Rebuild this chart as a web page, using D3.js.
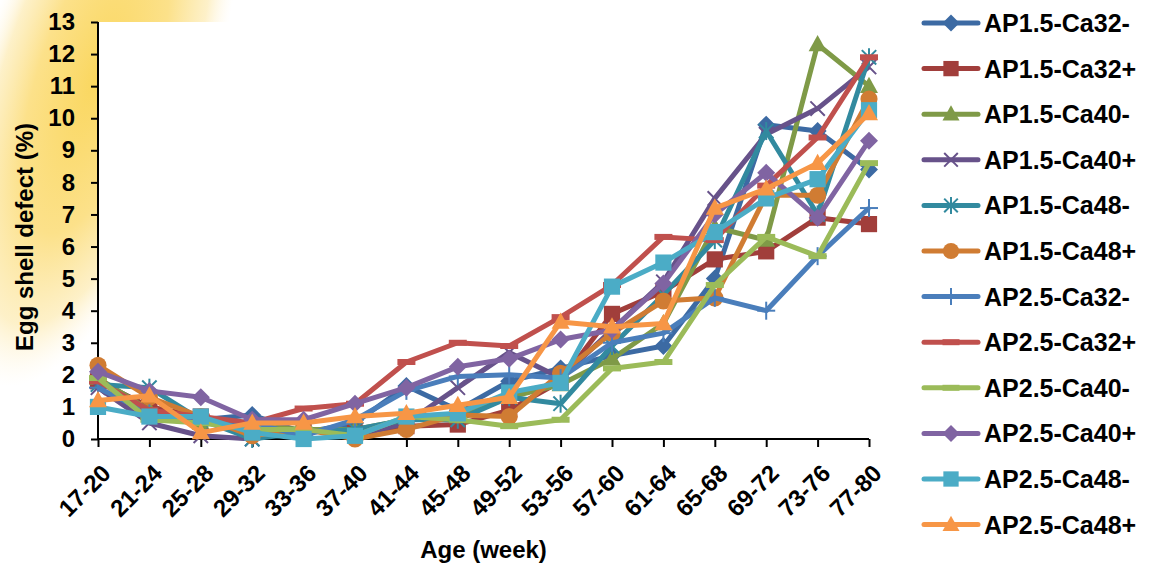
<!DOCTYPE html>
<html>
<head>
<meta charset="utf-8">
<script src="https://cdn.jsdelivr.net/npm/d3@7"></script>
<style>
  body { margin: 0; background: #fff; }
  svg { display: block; font-family: "Liberation Sans", Arial, sans-serif; font-weight: bold; }
</style>
</head>
<body>
<div id="chart"></div>
<script>
// Age groups (week) on the x axis
const ageGroups = ['17-20', '21-24', '25-28', '29-32', '33-36', '37-40', '41-44', '45-48',
  '49-52', '53-56', '57-60', '61-64', '65-68', '69-72', '73-76', '77-80'];
const yTickValues = [0, 1, 2, 3, 4, 5, 6, 7, 8, 9, 10, 11, 12, 13];

// Egg shell defect (%) per treatment
const ap15Ca32Minus = [1.8, 1.0, 0.6, 0.75, 0.2, 0.5, 1.65, 0.9, 1.8, 2.2, 2.6, 2.9, 5.0, 9.8, 9.6, 8.4];
const ap15Ca32Plus = [1.8, 1.0, 0.7, 0.3, 0.3, 0.2, 0.4, 0.45, 0.9, 1.8, 3.9, 4.6, 5.6, 5.85, 6.9, 6.7];
const ap15Ca40Minus = [1.9, 0.9, 0.5, 0.4, 0.3, 0.3, 0.6, 0.7, 1.3, 1.7, 2.5, 3.6, 6.6, 6.2, 12.3, 11.0];
const ap15Ca40Plus = [1.6, 0.5, 0.1, 0.0, 0.3, 0.1, 0.5, 1.6, 2.7, 1.9, 3.4, 4.9, 7.5, 9.5, 10.3, 11.6];
const ap15Ca48Minus = [1.7, 1.6, 0.6, 0.0, 0.2, 0.3, 0.6, 0.6, 1.3, 1.1, 2.9, 4.5, 6.2, 9.6, 7.0, 11.9];
const ap15Ca48Plus = [2.3, 1.3, 0.7, 0.1, 0.3, 0.0, 0.3, 0.75, 0.7, 2.05, 3.3, 4.3, 4.4, 7.6, 7.6, 10.6];
const ap25Ca32Minus = [1.6, 0.8, 0.6, 0.5, 0.1, 0.6, 1.5, 1.95, 2.0, 1.9, 3.0, 3.3, 4.4, 4.0, 5.7, 7.2];
const ap25Ca32Plus = [1.8, 0.9, 0.7, 0.5, 0.95, 1.1, 2.4, 3.0, 2.9, 3.8, 4.8, 6.3, 6.2, 7.9, 9.4, 11.9];
const ap25Ca40Minus = [1.9, 0.6, 0.5, 0.3, 0.3, 0.1, 0.7, 0.6, 0.4, 0.6, 2.2, 2.4, 4.8, 6.3, 5.7, 8.6];
const ap25Ca40Plus = [2.1, 1.5, 1.3, 0.6, 0.6, 1.1, 1.6, 2.25, 2.5, 3.1, 3.4, 4.85, 7.0, 8.3, 6.9, 9.3];
const ap25Ca48Minus = [1.0, 0.7, 0.7, 0.2, 0.0, 0.1, 0.7, 0.8, 1.45, 1.75, 4.75, 5.5, 6.45, 7.5, 8.1, 10.25];
const ap25Ca48Plus = [1.2, 1.35, 0.2, 0.5, 0.5, 0.7, 0.8, 1.05, 1.3, 3.65, 3.5, 3.6, 7.2, 7.8, 8.6, 10.15];

const seriesNames = ['AP1.5-Ca32-', 'AP1.5-Ca32+', 'AP1.5-Ca40-', 'AP1.5-Ca40+', 'AP1.5-Ca48-', 'AP1.5-Ca48+',
  'AP2.5-Ca32-', 'AP2.5-Ca32+', 'AP2.5-Ca40-', 'AP2.5-Ca40+', 'AP2.5-Ca48-', 'AP2.5-Ca48+'];
const seriesValues = [ap15Ca32Minus, ap15Ca32Plus, ap15Ca40Minus, ap15Ca40Plus, ap15Ca48Minus, ap15Ca48Plus,
  ap25Ca32Minus, ap25Ca32Plus, ap25Ca40Minus, ap25Ca40Plus, ap25Ca48Minus, ap25Ca48Plus];
const seriesColors = ['#3c6aa3', '#a13e3b', '#7f9a47', '#67528a', '#328a9f', '#d07c33',
  '#4a7ebb', '#c0504d', '#9bbb59', '#8064a2', '#4bacc6', '#f79646'];
const seriesMarkers = ['diamond', 'square', 'triangle', 'x', 'star', 'circle',
  'plus', 'dash', 'dash', 'diamond', 'square', 'triangle'];

const width = 1151;
const height = 565;
const margin = { top: 22, right: 282, bottom: 126, left: 98 };
const plotW = width - margin.left - margin.right;
const plotH = height - margin.top - margin.bottom;

const svg = d3.select('#chart')
  .append('svg')
  .attr('width', width)
  .attr('height', height);

// yellow slide glow behind the top-left corner
const defs = svg.append('defs');
const glow = defs.append('radialGradient').attr('id', 'glow');
glow.append('stop').attr('offset', '0%').attr('stop-color', '#fad760');
glow.append('stop').attr('offset', '50%').attr('stop-color', '#fce18a');
glow.append('stop').attr('offset', '80%').attr('stop-color', '#fdedbb').attr('stop-opacity', 0.8);
glow.append('stop').attr('offset', '100%').attr('stop-color', '#fff8e6').attr('stop-opacity', 0);

svg.append('ellipse')
  .attr('transform', 'translate(95,80) rotate(18)')
  .attr('rx', 115)
  .attr('ry', 320)
  .attr('fill', 'url(#glow)');

const g = svg.append('g')
  .attr('transform', `translate(${margin.left},${margin.top})`);

g.append('rect')
  .attr('width', plotW)
  .attr('height', plotH)
  .attr('fill', '#fff');

const x = d3.scalePoint()
  .domain(ageGroups)
  .range([0, plotW]);

const y = d3.scaleLinear()
  .domain([0, 13])
  .range([plotH, 0]);

// axes
const yAxis = g.append('g')
  .call(d3.axisLeft(y).tickValues(yTickValues).tickSize(7).tickPadding(16).tickFormat(d3.format('d')));
yAxis.select('.domain').attr('d', `M0,${plotH}V0`).attr('stroke-width', 2);
yAxis.selectAll('.tick line').attr('stroke-width', 2);
yAxis.selectAll('.tick text')
  .attr('font-size', 24)
  .attr('font-family', '"Liberation Sans", Arial, sans-serif')
  .attr('font-weight', 'bold')
  .attr('fill', '#000');

const xAxis = g.append('g')
  .attr('transform', `translate(0,${plotH})`)
  .call(d3.axisBottom(x).tickSize(8).tickSizeOuter(0));
xAxis.select('.domain').attr('d', `M0,0H${plotW}`).attr('stroke-width', 2);
xAxis.selectAll('.tick line').attr('stroke-width', 2);
xAxis.selectAll('.tick text')
  .attr('font-size', 24)
  .attr('font-family', '"Liberation Sans", Arial, sans-serif')
  .attr('font-weight', 'bold')
  .attr('fill', '#000')
  .attr('text-anchor', 'end')
  .attr('dy', 0)
  .attr('transform', 'translate(6,28) rotate(-45)');

// marker shapes
function markerPath(type, s) {
  switch (type) {
    case 'diamond': return `M0,${-s}L${s},0L0,${s}L${-s},0Z`;
    case 'square': return `M${-s * 0.9},${-s * 0.9}H${s * 0.9}V${s * 0.9}H${-s * 0.9}Z`;
    case 'triangle': return `M0,${-s * 1.05}L${s},${s * 0.75}H${-s}Z`;
    case 'circle': return d3.arc()({ innerRadius: 0, outerRadius: s * 0.95, startAngle: 0, endAngle: 2 * Math.PI });
    default: return null;
  }
}

function drawMarker(sel, type, color, s) {
  const path = markerPath(type, s);
  if (path) {
    sel.append('path').attr('d', path).attr('fill', color);
    return;
  }
  const k = s * 0.8;
  if (type === 'x' || type === 'star') {
    sel.append('path')
      .attr('d', `M${-k},${-k}L${k},${k}M${-k},${k}L${k},${-k}`)
      .attr('stroke', color).attr('stroke-width', 2);
  }
  if (type === 'star' || type === 'plus') {
    sel.append('path')
      .attr('d', `M0,${-s}V${s}`)
      .attr('stroke', color).attr('stroke-width', 2);
  }
  if (type === 'plus') {
    sel.append('path')
      .attr('d', `M${-s},0H${s}`)
      .attr('stroke', color).attr('stroke-width', 2);
  }
  if (type === 'dash') {
    sel.append('path')
      .attr('d', `M${-s},0H${s}`)
      .attr('stroke', color).attr('stroke-width', 6);
  }
}

const line = d3.line()
  .x((d, i) => x(ageGroups[i]))
  .y(d => y(d));

seriesValues.forEach((values, si) => {
  const color = seriesColors[si];
  const sg = g.append('g').attr('class', 'series');

  sg.append('path')
    .datum(values)
    .attr('fill', 'none')
    .attr('stroke', color)
    .attr('stroke-width', 5)
    .attr('stroke-linejoin', 'round')
    .attr('d', line);

  sg.selectAll('g.pt')
    .data(values)
    .enter()
    .append('g')
    .attr('class', 'pt')
    .attr('transform', (d, i) => `translate(${x(ageGroups[i])},${y(d)})`)
    .each(function () {
      drawMarker(d3.select(this), seriesMarkers[si], color, 9);
    });
});

// axis titles
svg.append('text')
  .attr('x', margin.left + plotW / 2)
  .attr('y', 558)
  .attr('text-anchor', 'middle')
  .attr('font-size', 24)
  .text('Age (week)');

svg.append('text')
  .attr('transform', `translate(33,${margin.top + 215}) rotate(-90)`)
  .attr('text-anchor', 'middle')
  .attr('font-size', 24)
  .text('Egg shell defect (%)');

// legend
const legend = svg.append('g')
  .attr('transform', 'translate(924,23)');

const rows = legend.selectAll('g.row')
  .data(seriesNames)
  .enter()
  .append('g')
  .attr('class', 'row')
  .attr('transform', (d, i) => `translate(0,${i * 45.6})`);

rows.append('path')
  .attr('d', 'M0,0H54')
  .attr('stroke', (d, i) => seriesColors[i])
  .attr('stroke-width', 5)
  .attr('stroke-linecap', 'round');

rows.each(function (d, i) {
  const m = d3.select(this).append('g').attr('transform', 'translate(27,0)');
  drawMarker(m, seriesMarkers[i], seriesColors[i], 8.5);
});

rows.append('text')
  .attr('x', 60)
  .attr('dy', '0.36em')
  .attr('font-size', 25)
  .text(d => d);
</script>
</body>
</html>
